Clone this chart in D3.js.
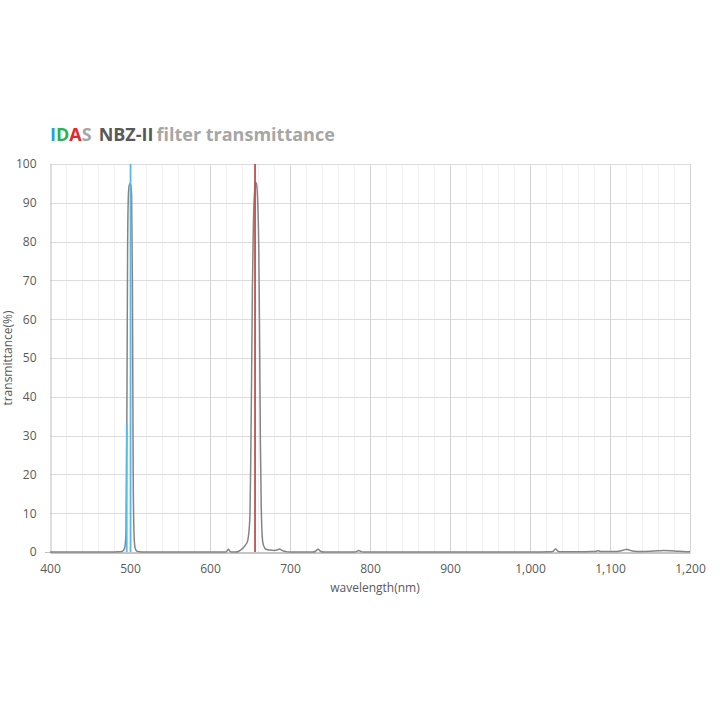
<!DOCTYPE html>
<html>
<head>
<meta charset="utf-8">
<script src="https://cdn.jsdelivr.net/npm/d3@7/dist/d3.min.js"></script>
<style>
  html, body { margin: 0; padding: 0; background: #ffffff; }
  svg { display: block; }
</style>
</head>
<body>
<svg id="chart" width="720" height="720"></svg>
<script>
// ---- data ----
const wavelengths = [400, 450, 480, 486, 490, 492, 493, 494, 495, 496, 497, 498, 499, 500, 501, 502, 503, 504, 505, 506, 507, 508, 510, 515, 520,
  600, 619, 621, 623, 625, 627, 632, 636, 640, 643, 645, 647, 648, 649, 650, 651, 652, 653, 654, 655, 656, 657, 658, 659, 660, 661, 662, 663, 664, 665, 666, 668, 670, 675, 680, 684, 687, 690, 695, 700,
  728, 732, 735, 738, 742, 780, 783, 786, 789, 792, 850, 1000, 1025, 1029, 1032, 1035, 1039, 1060, 1078, 1082, 1085, 1088, 1092, 1108, 1114, 1118, 1121, 1124, 1130, 1140, 1150, 1160, 1167, 1175, 1185, 1195, 1200];
const transmittance = [0, 0, 0, 0.05, 0.1, 0.4, 0.9, 1.8, 5, 30, 78, 92, 94.5, 95, 94.5, 92, 70, 20, 5, 1.5, 0.7, 0.3, 0.1, 0.02, 0,
  0, 0, 0.2, 0.7, 0.2, 0, 0, 0.2, 0.8, 1.4, 2, 2.8, 4, 6, 10, 25, 45, 68, 82, 90, 93.5, 95.3, 95, 93, 88, 78, 55, 28, 12, 5, 2.5, 1.2, 0.7, 0.5, 0.4, 0.5, 0.8, 0.4, 0.1, 0,
  0, 0.2, 0.7, 0.2, 0, 0, 0.1, 0.4, 0.1, 0, 0, 0, 0.05, 0.2, 0.8, 0.2, 0.05, 0.05, 0.1, 0.15, 0.35, 0.15, 0.1, 0.15, 0.3, 0.55, 0.7, 0.5, 0.2, 0.15, 0.2, 0.3, 0.4, 0.35, 0.2, 0.08, 0.05];

const lineNames = ["OIII 495.9", "OIII 500.7", "H-alpha 656.3"];
const lineWavelengths = [495.9, 500.7, 656.3];
const lineHeights = [33, 100, 100];
const lineColors = ["#5bb8e6", "#5bb8e6", "#c0504d"];

const xTicks = [400, 500, 600, 700, 800, 900, 1000, 1100, 1200];
const yTicks = [0, 10, 20, 30, 40, 50, 60, 70, 80, 90, 100];

// ---- layout ----
const svg = d3.select("#chart");
const mLeft = 50, mRight = 690, mTop = 164, mBottom = 552;
const x = d3.scaleLinear().domain([400, 1200]).range([mLeft, mRight]);
const y = d3.scaleLinear().domain([0, 100]).range([mBottom, mTop]);
const font = "'Open Sans', 'Noto Sans', sans-serif";

// minor vertical grid
const minor = d3.range(420, 1200, 20).filter(v => v % 100 !== 0);
svg.append("g").selectAll("line").data(minor).join("line")
  .attr("x1", d => Math.round(x(d)) + 0.5).attr("x2", d => Math.round(x(d)) + 0.5)
  .attr("y1", y(100)).attr("y2", y(0))
  .attr("stroke", "#f0f0f0").attr("stroke-width", 1);

// horizontal grid
svg.append("g").selectAll("line").data(yTicks.slice(1)).join("line")
  .attr("x1", mLeft).attr("x2", mRight)
  .attr("y1", d => Math.round(y(d)) + 0.5).attr("y2", d => Math.round(y(d)) + 0.5)
  .attr("stroke", "#dcdcdc").attr("stroke-width", 1);

// major vertical grid
svg.append("g").selectAll("line").data(xTicks.slice(1)).join("line")
  .attr("x1", d => Math.round(x(d)) + 0.5).attr("x2", d => Math.round(x(d)) + 0.5)
  .attr("y1", y(100)).attr("y2", y(0))
  .attr("stroke", "#d4d4d4").attr("stroke-width", 1);

// axes
const yAxis = d3.axisLeft(y).tickValues(yTicks).tickSize(0).tickPadding(14);
const gy = svg.append("g").attr("transform", `translate(${mLeft + 0.5},0)`).call(yAxis);
gy.select(".domain").attr("stroke", "#bfbfbf");
gy.selectAll("text").attr("font-family", font).attr("font-size", 12).attr("fill", "#595959");

const xAxis = d3.axisBottom(x).tickValues(xTicks).tickSize(0).tickPadding(12).tickFormat(d3.format(","));
const gx = svg.append("g").attr("transform", `translate(0,${mBottom + 0.5})`).call(xAxis);
gx.select(".domain").attr("stroke", "#8c8c8c");
gx.selectAll("text").attr("font-family", font).attr("font-size", 12).attr("fill", "#595959");

// small tick at y=0 on left
svg.append("line").attr("x1", mLeft - 5).attr("x2", mLeft).attr("y1", mBottom + 0.5).attr("y2", mBottom + 0.5).attr("stroke", "#bfbfbf");

// axis titles
svg.append("text").attr("x", 375).attr("y", 592).attr("text-anchor", "middle")
  .attr("font-family", font).attr("font-size", 12).attr("fill", "#595959").text("wavelength(nm)");
svg.append("text").attr("transform", `translate(12,${(mTop + mBottom) / 2}) rotate(-90)`).attr("text-anchor", "middle")
  .attr("font-family", font).attr("font-size", 12).attr("fill", "#595959").text("transmittance(%)");

// transmittance curve
const pts = wavelengths.map((w, i) => [w, transmittance[i]]);
svg.append("path").datum(pts)
  .attr("fill", "none").attr("stroke", "#848484").attr("stroke-width", 1.5)
  .attr("d", d3.line().x(d => x(d[0])).y(d => y(d[1])).curve(d3.curveMonotoneX));

// emission lines
svg.append("g").selectAll("line").data(lineWavelengths).join("line")
  .attr("x1", d => x(d)).attr("x2", d => x(d))
  .attr("y1", (d, i) => y(lineHeights[i])).attr("y2", y(0))
  .attr("stroke", (d, i) => lineColors[i]).attr("stroke-width", 1.8);

// title
const title = svg.append("text").attr("x", 50).attr("y", 141)
  .attr("font-family", font).attr("font-size", 18).attr("font-weight", "bold");
[["I", "#1aa3e3"], ["D", "#2db34a"], ["A", "#e8262a"], ["S", "#a6a6a6"]].forEach(([t, c]) => {
  title.append("tspan").attr("fill", c).text(t);
});
title.append("tspan").attr("fill", "#595959").attr("dx", 7).text("NBZ-II");
title.append("tspan").attr("fill", "#a6a6a6").attr("dx", 3).text("filter transmittance");
</script>
</body>
</html>
